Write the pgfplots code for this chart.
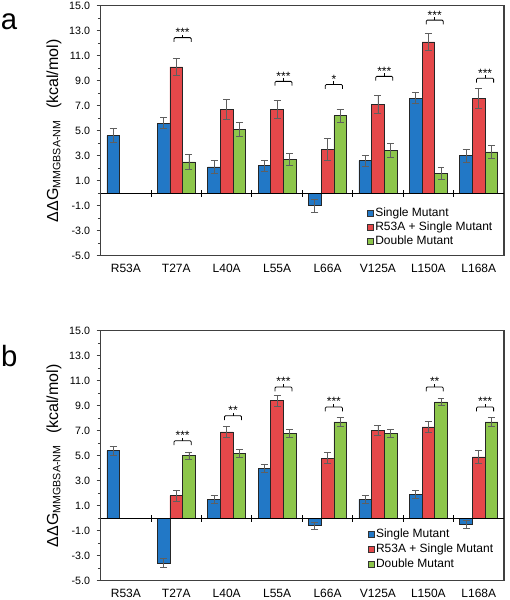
\documentclass[border=0pt]{standalone}
\usepackage{fontspec}
\setmainfont{Liberation Sans}
\usepackage{pgfplots}
\usepackage{pgfplotstable}
\pgfplotsset{compat=1.18}

\definecolor{cblue}{RGB}{34,120,198}
\definecolor{cred}{RGB}{229,72,74}
\definecolor{cgreen}{RGB}{141,198,75}
\definecolor{errgray}{RGB}{95,95,95}

% ---- panel a ----
\pgfplotstableread{
x y err
0 4.6 0.55
1 5.6 0.45
2 2.1 0.55
3 2.2 0.45
4 -1.0 0.5
5 2.6 0.45
6 7.6 0.45
7 3.0 0.5
}\aSingle
\pgfplotstableread{
x y err
1 10.1 0.7
2 6.7 0.8
3 6.7 0.75
4 3.5 0.85
5 7.1 0.75
6 12.1 0.7
7 7.6 0.8
}\aRed
\pgfplotstableread{
x y err
1 2.5 0.6
2 5.1 0.55
3 2.7 0.5
4 6.2 0.5
5 3.4 0.55
6 1.6 0.5
7 3.3 0.5
}\aGreen
% ---- panel b ----
\pgfplotstableread{
x y err
0 5.4 0.35
1 -3.6 0.35
2 1.5 0.3
3 4.0 0.3
4 -0.6 0.3
5 1.5 0.35
6 1.9 0.35
7 -0.5 0.3
}\bSingle
\pgfplotstableread{
x y err
1 1.8 0.45
2 6.9 0.45
3 9.4 0.45
4 4.8 0.45
5 7.0 0.4
6 7.3 0.45
7 4.9 0.5
}\bRed
\pgfplotstableread{
x y err
1 5.0 0.3
2 5.2 0.3
3 6.8 0.3
4 7.7 0.35
5 6.8 0.3
6 9.3 0.3
7 7.7 0.35
}\bGreen

\newcommand{\brk}[3]{%
  \draw[black, line width=0.6pt, rounded corners=0.8pt] ([xshift=-1.65pt,yshift=-3.2pt]axis cs:#1,#2) -- ++(0pt,3.2pt) -- ++(12.8pt,0pt) -- ++(0pt,-3.2pt);
  \draw[black, line width=0.6pt] ([xshift=4.75pt]axis cs:#1,#2) -- ++(0pt,2.25pt);
  \node[anchor=base, font=\fontsize{9}{10}\selectfont, inner sep=0pt] at ([xshift=4.75pt,yshift=0.8pt]axis cs:#1,#2) {#3};
}
\newcommand{\zeroline}{%
  \draw[black, line width=0.8pt] (axis cs:-0.5,0) -- (axis cs:7.5,0);
  \draw[black, line width=0.7pt] ([yshift=-2.5pt]axis cs:0.5,0) -- ([yshift=2.5pt]axis cs:0.5,0);
  \draw[black, line width=0.7pt] ([yshift=-2.5pt]axis cs:1.5,0) -- ([yshift=2.5pt]axis cs:1.5,0);
  \draw[black, line width=0.7pt] ([yshift=-2.5pt]axis cs:2.5,0) -- ([yshift=2.5pt]axis cs:2.5,0);
  \draw[black, line width=0.7pt] ([yshift=-2.5pt]axis cs:3.5,0) -- ([yshift=2.5pt]axis cs:3.5,0);
  \draw[black, line width=0.7pt] ([yshift=-2.5pt]axis cs:4.5,0) -- ([yshift=2.5pt]axis cs:4.5,0);
  \draw[black, line width=0.7pt] ([yshift=-2.5pt]axis cs:5.5,0) -- ([yshift=2.5pt]axis cs:5.5,0);
  \draw[black, line width=0.7pt] ([yshift=-2.5pt]axis cs:6.5,0) -- ([yshift=2.5pt]axis cs:6.5,0);
}

\pgfplotsset{
  panel/.style={
    width=302.5pt, height=187.5pt, scale only axis,
    xmin=-0.5, xmax=7.5, ymin=-5, ymax=15,
    ybar=0pt, bar width=9.5pt,
    xtick={0,...,7},
    xticklabels={R53A,T27A,L40A,L55A,L66A,V125A,L150A,L168A},
    x tick style={draw=none},
    xticklabel style={font=\fontsize{9}{10}\selectfont},
    ytick={-5,-3,...,15}, minor ytick={-4,-2,...,14},
    ytick pos=left, tick align=outside,
    major tick length=3pt, minor tick length=2pt,
    y tick style={black!75, line width=0.6pt},
    yticklabel={\pgfmathprintnumber[fixed,fixed zerofill,precision=1,assume math mode=true]{\tick}},
    yticklabel style={font=\fontsize{8}{9}\selectfont, xshift=-1.5pt},
    axis line style={black!75, line width=0.8pt},
    ylabel={ΔΔG\textsubscript{MMGBSA-NM}\hspace{0.7em}(kcal/mol)},
    ylabel style={font=\fontsize{12}{14}\selectfont, at={(axis description cs:-0.116,0.5)}, anchor=center},
    area legend,
    legend image code/.code={\draw[#1, draw=black!80, line width=0.4pt] (0pt,-2.25pt) rectangle (4.5pt,2.25pt);},
    legend cell align=left,
    legend style={draw=none, fill=none, font=\fontsize{9}{10}\selectfont, inner sep=0pt,
      nodes={inner sep=0.5pt, text height=6.5pt, text depth=2pt},
      /tikz/every odd column/.style={column sep=1pt}},
    every axis plot/.append style={draw=black!85, line width=0.5pt,
      /pgfplots/error bars/y dir=both, /pgfplots/error bars/y explicit,
      /pgfplots/error bars/error bar style={errgray, line width=0.6pt},
      /pgfplots/error bars/error mark options={errgray, rotate=90, mark size=2.6pt, line width=0.6pt}},
  }
}

\begin{document}
\begin{tikzpicture}
\path[use as bounding box] (-75.5pt,4.3pt) rectangle (306.3pt,-445.7pt);

\begin{axis}[panel, at={(0pt,0pt)}, anchor=north west,
  legend style={at={(axis description cs:0.659,0.195)}, anchor=north west, row sep=1pt}]
\addplot[fill=cblue] table[x=x,y=y,y error=err] {\aSingle};
\addplot[fill=cred] table[x=x,y=y,y error=err] {\aRed};
\addplot[fill=cgreen] table[x=x,y=y,y error=err] {\aGreen};
\legend{Single Mutant, R53A + Single Mutant, Double Mutant}
\zeroline
\brk{1}{12.45}{***}
\brk{3}{8.95}{***}
\brk{4}{8.7}{*}
\brk{5}{9.35}{***}
\brk{6}{13.85}{***}
\brk{7}{9.2}{***}
\end{axis}

\begin{axis}[panel, at={(0pt,-243.75pt)}, anchor=north west,
  legend style={at={(axis description cs:0.661,0.211)}, anchor=north west, row sep=1.75pt}]
\addplot[fill=cblue] table[x=x,y=y,y error=err] {\bSingle};
\addplot[fill=cred] table[x=x,y=y,y error=err] {\bRed};
\addplot[fill=cgreen] table[x=x,y=y,y error=err] {\bGreen};
\legend{Single Mutant, R53A + Single Mutant, Double Mutant}
\zeroline
\brk{1}{6.2}{***}
\brk{2}{8.2}{**}
\brk{3}{10.5}{***}
\brk{4}{8.9}{***}
\brk{6}{10.5}{**}
\brk{7}{8.9}{***}
\end{axis}

\node[anchor=base, font=\fontsize{22}{26}\selectfont, inner sep=0pt] at (-68.8pt,-17.5pt) {a};
\node[anchor=base, font=\fontsize{22}{26}\selectfont, inner sep=0pt] at (-68.6pt,-270.7pt) {b};
\end{tikzpicture}
\end{document}
